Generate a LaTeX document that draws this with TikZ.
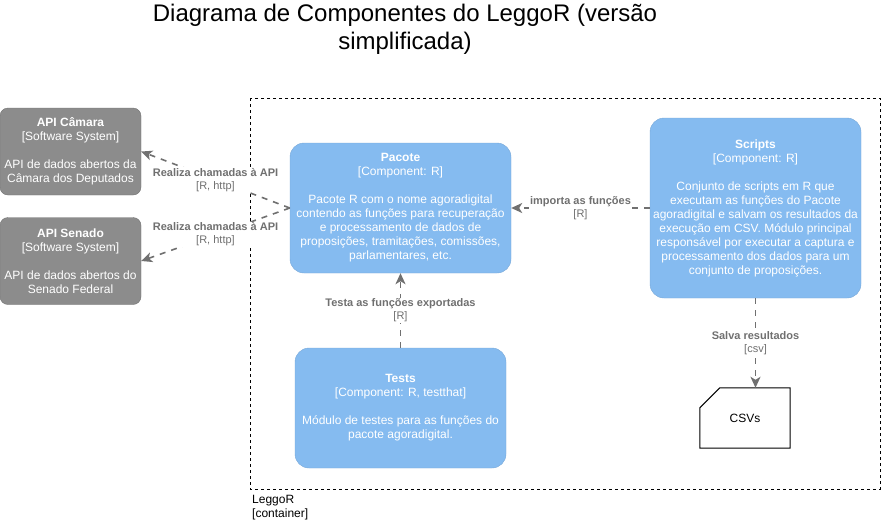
\documentclass[tikz,border=0pt]{standalone}
\usepackage{fontspec}
\setmainfont{Liberation Sans}
\usetikzlibrary{arrows.meta}

\definecolor{extgray}{HTML}{8C8C8C}
\definecolor{extline}{HTML}{737373}
\definecolor{compblue}{HTML}{85BBF0}
\definecolor{compline}{HTML}{78A8D8}
\definecolor{relgray}{HTML}{707070}

\tikzset{
	ext/.style = {draw=extline, fill=extgray, rounded corners=8pt, text=white,
		minimum width=141pt, minimum height=87pt, align=center, inner sep=0pt,
		font=\fontsize{12}{14}\selectfont},
	comp/.style = {draw=compline, fill=compblue, rounded corners=14pt, text=white,
		align=center, inner sep=0pt, font=\fontsize{12}{14}\selectfont},
	rel/.style = {draw=relgray, line width=1.6pt, dash pattern=on 6pt off 6pt,
		-{Stealth[length=11pt,width=10pt,inset=3pt]}},
	rellabel/.style = {fill=white, text=relgray, align=center, inner sep=1pt,
		font=\fontsize{11}{13}\selectfont}
}

\begin{document}
\begin{tikzpicture}[x=1pt, y=-1pt]
	\useasboundingbox (0,0) rectangle (881,523);

	% title
	\node (title) at (405,29) [align=center, font=\fontsize{24}{28}\selectfont]
		{Diagrama de Componentes do LeggoR (versão\\simplificada)};

	% container
	\draw [dashed, line width=0.8pt] (250,98) rectangle (880,489);
	\node (cont) at (252,508) [anchor=west, align=left, inner sep=0pt,
		font=\fontsize{12}{14}\selectfont] {LeggoR\\{[}container{]}};

	% external systems
	\node (camara) at (70.5,151.5) [ext]
		{\textbf{API Câmara}\\{[}Software System{]}\\[14pt]API de dados abertos da\\Câmara dos Deputados};
	\node (senado) at (70.5,261) [ext]
		{\textbf{API Senado}\\{[}Software System{]}\\[14pt]API de dados abertos do\\Senado Federal};

	% components
	\node (pacote) at (400.5,208) [comp, minimum width=221pt, minimum height=130pt]
		{\textbf{Pacote}\\{[}Component: R{]}\\[14pt]Pacote R com o nome agoradigital\\contendo as funções para recuperação\\e processamento de dados de\\proposições, tramitações, comissões,\\parlamentares, etc.};
	\node (scripts) at (755.5,208) [comp, minimum width=211pt, minimum height=180pt]
		{\textbf{Scripts}\\{[}Component: R{]}\\[14pt]Conjunto de scripts em R que\\executam as funções do Pacote\\agoradigital e salvam os resultados da\\execução em CSV. Módulo principal\\responsável por executar a captura e\\processamento dos dados para um\\conjunto de proposições.};
	\node (tests) at (400.5,408) [comp, minimum width=211pt, minimum height=120pt]
		{\textbf{Tests}\\{[}Component: R, testthat{]}\\[14pt]Módulo de testes para as funções do\\pacote agoradigital.};

	% csv storage
	\node (csv) at (745,418) [minimum width=90pt, minimum height=60pt,
		font=\fontsize{12}{14}\selectfont] {CSVs};
	\draw [line width=1pt] ([xshift=20pt]csv.north west) -- (csv.north east) -- (csv.south east)
		-- (csv.south west) -- ([yshift=-20pt]csv.north west) -- cycle;

	% relations
	\draw [rel] (pacote.west) -- (camara.east)
		node [rellabel, pos=0.5] {\textbf{Realiza chamadas à API}\\{[}R, http{]}};
	\draw [rel] (pacote.west) -- (senado.east)
		node [rellabel, pos=0.5] {\textbf{Realiza chamadas à API}\\{[}R, http{]}};
	\draw [rel] (scripts.west) -- (pacote.east)
		node [rellabel, pos=0.5] {\textbf{importa as funções}\\{[}R{]}};
	\draw [rel] (tests.north) -- (pacote.south)
		node [rellabel, pos=0.5] {\textbf{Testa as funções exportadas}\\{[}R{]}};
	\draw [rel] (scripts.south) -- (scripts.south |- csv.north)
		node [rellabel, pos=0.5] {\textbf{Salva resultados}\\{[}csv{]}};

\end{tikzpicture}
\end{document}
